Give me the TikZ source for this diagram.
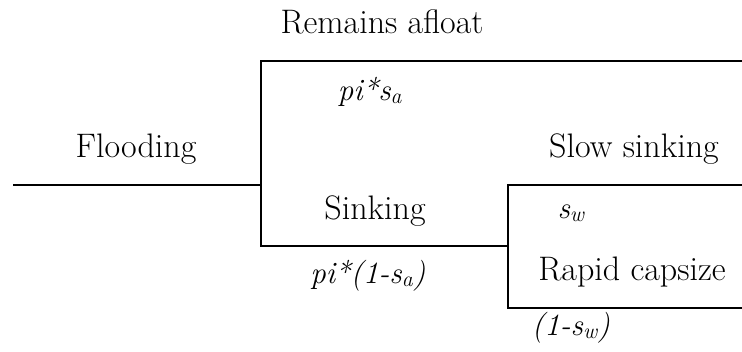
\documentclass[tikz,border=0pt]{standalone}
\begin{document}
\begin{tikzpicture}[x=1pt,y=-1pt,
  branch/.style={line width=1.7pt, black},
  lab/.style={anchor=base, inner sep=0pt, font=\fontsize{34}{40}\selectfont},
  prob/.style={anchor=base, inner sep=0pt, font=\fontsize{31}{36}\selectfont\itshape}]
\useasboundingbox (0,0) rectangle (742,351);
% coordinates
\coordinate (start) at (13,185);
\coordinate (j1) at (261,185);
\coordinate (t1) at (261,61);
\coordinate (t1e) at (742,61);
\coordinate (b1) at (261,246);
\coordinate (j2) at (508,246);
\coordinate (t2) at (508,185);
\coordinate (t2e) at (742,185);
\coordinate (b2) at (508,308);
\coordinate (b2e) at (742,308);
% branches
\draw[branch] (start) -- (j1);
\draw[branch] (t1e) -- (t1) -- (b1) -- (j2);
\draw[branch] (t2e) -- (t2) -- (b2) -- (b2e);
% labels
\node[lab] (afloat) at (382,33) {Remains afloat};
\node[lab] (flood) at (136,157) {Flooding};
\node[lab] (sink) at (375,219) {Sinking};
\node[lab] (slow) at (634,157) {Slow sinking};
\node[lab] (rapid) at (632,280) {Rapid capsize};
% probabilities
\node[prob] (psa) at (370,100) {pi*s\textsubscript{a}};
\node[prob] (p1sa) at (368,283) {pi*(1-s\textsubscript{a})};
\node[prob] (sw) at (571,218) {s\textsubscript{w}};
\node[prob] (onesw) at (571,335) {(1-s\textsubscript{w})};
\end{tikzpicture}
\end{document}
